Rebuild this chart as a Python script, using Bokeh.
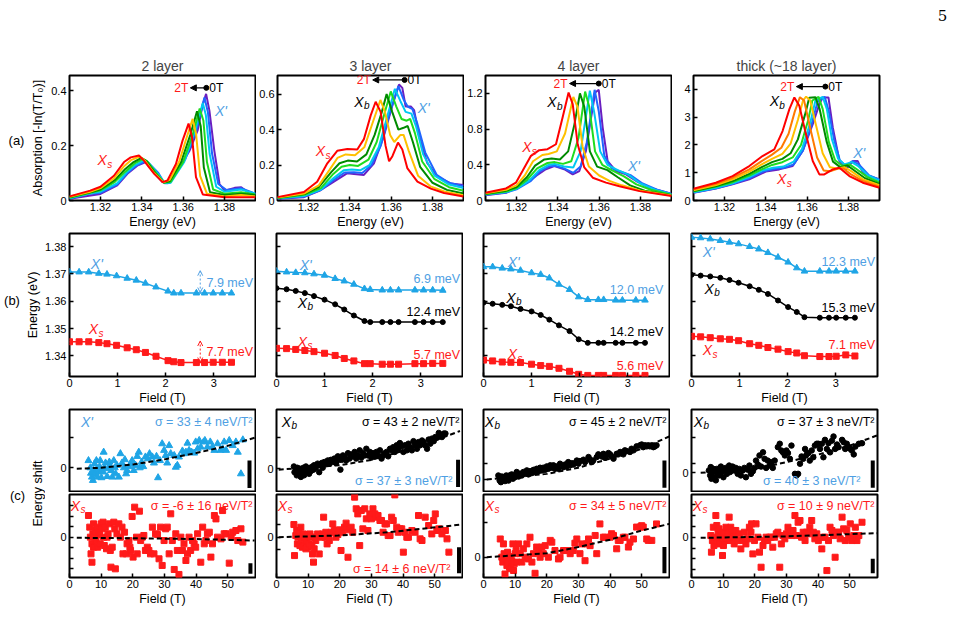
import math
from bokeh.plotting import figure
from bokeh.models import Range1d, FixedTicker, Label, Arrow, NormalHead, OpenHead
from bokeh.layouts import row, column
from bokeh.embed import file_html
from bokeh.resources import INLINE

FONT = "Liberation Sans"
RED = "#ff1a1a"
CYAN = "#1fa5e6"
CYAN_TXT = "#4f9fe3"
BLK = "#000000"

# ============================ DATA ============================
# (a) absorption spectra, (energy eV, -ln(T/T0)), curves ordered 2T -> 0T
SPEC_2L = [
    [(1.305,.015),(1.315,.036),(1.32,.05),(1.3265,.09),(1.3314,.14),(1.3346,.157),(1.3386,.164),(1.341,.145),(1.346,.097),(1.350,.067),(1.3524,.073),(1.3565,.133),(1.3597,.218),(1.3626,.28),(1.3643,.23),(1.3662,.085),(1.3695,.022),(1.38,.012),(1.395,.012)],
    [(1.305,.014),(1.315,.032),(1.32,.045),(1.3265,.08),(1.3314,.125),(1.335,.148),(1.339,.16),(1.3415,.145),(1.346,.1),(1.3505,.066),(1.3535,.075),(1.358,.14),(1.3615,.225),(1.3646,.297),(1.3662,.245),(1.3682,.09),(1.3715,.025),(1.38,.015),(1.388,.02),(1.395,.015)],
    [(1.305,.012),(1.315,.03),(1.32,.04),(1.327,.075),(1.332,.115),(1.336,.14),(1.3398,.155),(1.342,.145),(1.3465,.1),(1.3505,.065),(1.3535,.07),(1.359,.14),(1.3635,.24),(1.3667,.325),(1.3685,.27),(1.370,.12),(1.373,.03),(1.38,.02),(1.388,.025),(1.395,.02)],
    [(1.305,.01),(1.315,.028),(1.32,.037),(1.327,.068),(1.332,.105),(1.3365,.135),(1.3402,.15),(1.3425,.143),(1.347,.1),(1.3508,.065),(1.354,.068),(1.36,.14),(1.365,.25),(1.368,.335),(1.3698,.29),(1.3715,.14),(1.3745,.04),(1.38,.025),(1.388,.03),(1.395,.022)],
    [(1.305,.008),(1.315,.026),(1.32,.032),(1.328,.062),(1.333,.105),(1.337,.13),(1.3408,.145),(1.343,.14),(1.3475,.1),(1.351,.064),(1.354,.065),(1.3605,.14),(1.366,.26),(1.3695,.355),(1.371,.31),(1.3728,.17),(1.376,.05),(1.38,.032),(1.388,.04),(1.395,.025)],
    [(1.305,.007),(1.315,.025),(1.32,.028),(1.328,.058),(1.333,.1),(1.3375,.128),(1.3415,.142),(1.3435,.135),(1.348,.1),(1.351,.063),(1.3535,.064),(1.361,.15),(1.3665,.26),(1.3703,.375),(1.372,.32),(1.374,.17),(1.377,.06),(1.381,.038),(1.388,.045),(1.395,.025)],
    [(1.305,.006),(1.32,.024),(1.3281,.055),(1.333,.097),(1.3378,.127),(1.3419,.14),(1.3451,.109),(1.350,.067),(1.3524,.063),(1.3573,.109),(1.363,.18),(1.367,.255),(1.3695,.35),(1.3711,.388),(1.3727,.327),(1.3751,.18),(1.3776,.06),(1.38,.036),(1.3849,.046),(1.3881,.048),(1.3914,.03),(1.395,.024)],
]
SPEC_3L = [
    [(1.305,.019),(1.3178,.048),(1.3242,.106),(1.3291,.21),(1.3339,.28),(1.3388,.29),(1.3436,.288),(1.3468,.346),(1.3501,.48),(1.3525,.557),(1.3549,.5),(1.3573,.308),(1.359,.221),(1.3606,.25),(1.3633,.327),(1.3654,.288),(1.3678,.183),(1.3727,.106),(1.3792,.067),(1.3856,.042),(1.395,.023)],
    [(1.305,.017),(1.318,.04),(1.325,.085),(1.330,.17),(1.334,.24),(1.338,.26),(1.3425,.255),(1.347,.3),(1.3505,.42),(1.3548,.567),(1.357,.5),(1.3595,.37),(1.3615,.33),(1.3645,.37),(1.366,.37),(1.3685,.28),(1.373,.14),(1.379,.08),(1.386,.05),(1.395,.03)],
    [(1.305,.015),(1.318,.036),(1.325,.075),(1.331,.16),(1.335,.21),(1.339,.225),(1.3435,.22),(1.348,.26),(1.352,.37),(1.3555,.5),(1.3578,.6),(1.3605,.5),(1.3635,.4),(1.366,.41),(1.368,.42),(1.3705,.33),(1.374,.19),(1.38,.1),(1.387,.06),(1.395,.04)],
    [(1.305,.013),(1.318,.032),(1.326,.07),(1.332,.15),(1.336,.19),(1.340,.2),(1.344,.195),(1.349,.23),(1.353,.33),(1.357,.5),(1.3598,.615),(1.3625,.53),(1.365,.46),(1.3675,.45),(1.3692,.46),(1.3715,.38),(1.375,.22),(1.381,.12),(1.388,.075),(1.395,.055)],
    [(1.305,.012),(1.318,.026),(1.326,.062),(1.332,.125),(1.337,.17),(1.341,.175),(1.345,.17),(1.3495,.2),(1.354,.3),(1.358,.47),(1.3618,.63),(1.3645,.56),(1.367,.5),(1.3698,.49),(1.372,.42),(1.3755,.26),(1.381,.14),(1.388,.09),(1.395,.07)],
    [(1.305,.01),(1.318,.022),(1.326,.06),(1.332,.115),(1.3375,.158),(1.342,.16),(1.346,.155),(1.3505,.2),(1.355,.31),(1.3595,.5),(1.3635,.645),(1.366,.57),(1.368,.53),(1.3703,.515),(1.3725,.44),(1.3765,.27),(1.382,.145),(1.388,.1),(1.395,.08)],
    [(1.305,.01),(1.3178,.019),(1.3258,.058),(1.3323,.106),(1.3388,.154),(1.342,.15),(1.3468,.144),(1.3517,.21),(1.3565,.365),(1.3606,.538),(1.3638,.654),(1.3654,.635),(1.367,.53),(1.3695,.53),(1.3711,.51),(1.3735,.365),(1.3775,.21),(1.3824,.135),(1.3888,.096),(1.395,.087)],
]
SPEC_4L = [
    [(1.305,.086),(1.3149,.135),(1.3197,.2),(1.3229,.33),(1.327,.5),(1.331,.564),(1.335,.575),(1.3391,.63),(1.3423,.93),(1.3452,1.21),(1.3472,1.08),(1.3496,.63),(1.3528,.37),(1.3569,.255),(1.3633,.2),(1.3698,.16),(1.3795,.105),(1.395,.05)],
    [(1.305,.08),(1.315,.12),(1.32,.17),(1.324,.28),(1.328,.44),(1.3325,.51),(1.3355,.52),(1.3395,.55),(1.3435,.75),(1.3475,1.16),(1.3495,1.05),(1.352,.6),(1.355,.38),(1.36,.28),(1.365,.22),(1.371,.17),(1.38,.11),(1.395,.055)],
    [(1.305,.075),(1.315,.11),(1.32,.15),(1.325,.26),(1.329,.39),(1.3335,.46),(1.337,.47),(1.341,.46),(1.345,.55),(1.348,.85),(1.3507,1.2),(1.3528,1.05),(1.3555,.55),(1.359,.38),(1.364,.34),(1.369,.26),(1.375,.17),(1.382,.11),(1.395,.06)],
    [(1.305,.07),(1.315,.1),(1.32,.14),(1.325,.23),(1.33,.36),(1.335,.42),(1.3385,.43),(1.3425,.41),(1.3465,.44),(1.350,.7),(1.3532,1.22),(1.3552,1.05),(1.358,.55),(1.3615,.4),(1.366,.34),(1.372,.27),(1.378,.18),(1.385,.12),(1.395,.065)],
    [(1.305,.066),(1.315,.095),(1.32,.13),(1.326,.22),(1.331,.34),(1.3355,.4),(1.3385,.41),(1.343,.38),(1.3475,.37),(1.351,.55),(1.3555,1.23),(1.3575,1.0),(1.3605,.55),(1.364,.4),(1.369,.34),(1.374,.29),(1.38,.19),(1.387,.12),(1.395,.07)],
    [(1.305,.063),(1.315,.09),(1.32,.125),(1.327,.22),(1.3315,.33),(1.336,.385),(1.3385,.39),(1.343,.36),(1.3475,.31),(1.351,.38),(1.354,.65),(1.3578,1.24),(1.3598,1.0),(1.3625,.5),(1.366,.36),(1.371,.32),(1.3755,.28),(1.381,.19),(1.388,.12),(1.395,.072)],
    [(1.305,.06),(1.3149,.086),(1.3229,.18),(1.3294,.274),(1.3342,.35),(1.3383,.387),(1.3431,.35),(1.3472,.293),(1.3504,.33),(1.3536,.556),(1.3561,.93),(1.3581,1.21),(1.3598,1.24),(1.3617,.82),(1.3641,.44),(1.3682,.33),(1.373,.293),(1.3779,.218),(1.3843,.143),(1.395,.075)],
]
SPEC_TH = [
    [(1.305,.42),(1.3158,.64),(1.3239,.88),(1.332,1.24),(1.3384,1.6),(1.3441,1.84),(1.3481,2.5),(1.3514,3.29),(1.3538,3.71),(1.3562,3.41),(1.3594,2.39),(1.3627,1.42),(1.3659,.94),(1.3683,.94),(1.3724,1.12),(1.3756,1.18),(1.3804,.88),(1.3869,.64),(1.395,.46)],
    [(1.305,.4),(1.316,.6),(1.324,.82),(1.332,1.12),(1.338,1.42),(1.343,1.65),(1.3475,1.9),(1.351,2.4),(1.354,3.2),(1.3565,3.72),(1.3585,3.6),(1.3615,2.6),(1.3648,1.55),(1.368,1.08),(1.371,1.05),(1.375,1.15),(1.3775,1.15),(1.381,.95),(1.387,.7),(1.395,.5)],
    [(1.305,.37),(1.316,.56),(1.324,.76),(1.332,1.04),(1.338,1.3),(1.343,1.5),(1.348,1.68),(1.352,2.05),(1.3555,2.9),(1.358,3.6),(1.3595,3.74),(1.3615,3.6),(1.364,2.8),(1.3675,1.7),(1.371,1.2),(1.3745,1.15),(1.378,1.2),(1.3815,1.05),(1.387,.76),(1.395,.55)],
    [(1.305,.34),(1.316,.52),(1.324,.7),(1.332,.96),(1.338,1.2),(1.343,1.38),(1.348,1.5),(1.352,1.7),(1.3555,2.2),(1.359,3.1),(1.361,3.7),(1.364,3.72),(1.366,3.3),(1.3695,2.1),(1.3725,1.4),(1.376,1.2),(1.3795,1.26),(1.3825,1.1),(1.388,.8),(1.395,.6)],
    [(1.305,.32),(1.316,.5),(1.324,.66),(1.332,.9),(1.338,1.12),(1.343,1.28),(1.348,1.38),(1.353,1.55),(1.357,2.0),(1.3605,2.9),(1.3625,3.6),(1.3655,3.73),(1.3675,3.3),(1.3705,2.1),(1.3735,1.45),(1.377,1.25),(1.3805,1.3),(1.3835,1.15),(1.389,.85),(1.395,.65)],
    [(1.305,.3),(1.316,.46),(1.324,.62),(1.332,.84),(1.338,1.08),(1.3435,1.18),(1.3485,1.22),(1.3535,1.4),(1.3575,1.85),(1.3615,2.8),(1.364,3.6),(1.3675,3.73),(1.3695,3.3),(1.372,2.2),(1.375,1.5),(1.378,1.3),(1.3815,1.38),(1.3845,1.25),(1.3895,.9),(1.395,.72)],
    [(1.305,.29),(1.316,.44),(1.324,.6),(1.332,.8),(1.339,1.05),(1.3445,1.14),(1.349,1.18),(1.3535,1.3),(1.358,1.8),(1.362,2.7),(1.365,3.55),(1.3685,3.73),(1.3705,3.2),(1.373,2.2),(1.3758,1.45),(1.3785,1.25),(1.382,1.42),(1.385,1.3),(1.39,.9),(1.395,.75)],
    [(1.305,.28),(1.3158,.43),(1.3239,.58),(1.332,.76),(1.34,1.04),(1.3465,1.12),(1.353,1.24),(1.3578,1.78),(1.3627,2.75),(1.3659,3.47),(1.3675,3.71),(1.3703,3.71),(1.3724,2.63),(1.3756,1.42),(1.3788,1.12),(1.3821,1.42),(1.3845,1.42),(1.3869,1.0),(1.3901,.88),(1.395,.76)],
]
COLORS7 = ["#ff0000", "#ffc000", "#008a00", "#1fdc1f", "#00c8f0", "#1f66ff", "#6a1fc0"]
COLORS8 = ["#ff0000", "#ff7a00", "#ffc000", "#008a00", "#1fdc1f", "#00c8f0", "#1f66ff", "#6a1fc0"]

# (b) peak energy (eV) vs field (T)
F_2L = [0, 0.2, 0.4, 0.61, 0.78, 0.98, 1.2, 1.39, 1.58, 1.8, 2.05, 2.17, 2.32, 2.64, 2.81, 2.99, 3.18, 3.37]
E_2L_XP = [1.3707, 1.3707, 1.3707, 1.3702, 1.3699, 1.3693, 1.3684, 1.3677, 1.3666, 1.3652, 1.3637, 1.363, 1.363, 1.363, 1.363, 1.363, 1.363, 1.363]
E_2L_XS = [1.3452, 1.3452, 1.3452, 1.3449, 1.3445, 1.3439, 1.343, 1.3423, 1.3413, 1.3399, 1.3383, 1.3379, 1.3376, 1.3376, 1.3376, 1.3377, 1.3377, 1.3377]
F_3L = [0, 0.21, 0.4, 0.59, 0.78, 1.0, 1.22, 1.41, 1.61, 1.83, 1.95, 2.2, 2.37, 2.54, 2.88, 3.06, 3.25, 3.46]
E_3L_XP = [1.371, 1.3707, 1.3705, 1.3704, 1.37, 1.3695, 1.3683, 1.3674, 1.3662, 1.3646, 1.3643, 1.3641, 1.3641, 1.3641, 1.3641, 1.3641, 1.3641, 1.364]
E_3L_XB = [1.3648, 1.3644, 1.3638, 1.363, 1.3619, 1.3606, 1.3589, 1.357, 1.3548, 1.3528, 1.3524, 1.3524, 1.3524, 1.3524, 1.3524, 1.3524, 1.3524, 1.3524]
E_3L_XS = [1.3428, 1.3427, 1.3424, 1.342, 1.3416, 1.341, 1.3402, 1.3391, 1.3382, 1.3372, 1.3372, 1.337, 1.337, 1.337, 1.3372, 1.3372, 1.3373, 1.3373]
F_4L = [0, 0.19, 0.39, 0.57, 0.77, 1.0, 1.19, 1.37, 1.57, 1.79, 1.98, 2.17, 2.39, 2.5, 2.75, 2.89, 3.17, 3.36]
E_4L_XP = [1.3726, 1.3726, 1.3721, 1.3718, 1.3713, 1.3704, 1.3698, 1.3685, 1.3662, 1.3643, 1.3616, 1.3606, 1.3606, 1.3606, 1.3604, 1.3604, 1.3604, 1.3604]
E_4L_XB = [1.3595, 1.3591, 1.3587, 1.3582, 1.3572, 1.3563, 1.355, 1.3533, 1.3512, 1.3491, 1.3461, 1.3448, 1.3448, 1.3448, 1.3448, 1.3448, 1.3448, 1.3448]
E_4L_XS = [1.3385, 1.3382, 1.3378, 1.3377, 1.3376, 1.337, 1.3365, 1.3362, 1.3355, 1.3344, 1.3333, 1.3329, 1.3329, 1.3329, 1.3329, 1.3329, 1.3329, 1.3329]
F_TH = [0, 0.19, 0.39, 0.6, 0.79, 0.98, 1.21, 1.4, 1.59, 1.8, 2.01, 2.19, 2.35, 2.67, 2.86, 3.01, 3.21, 3.4]
E_TH_XP = [1.3834, 1.3832, 1.3828, 1.3822, 1.3816, 1.381, 1.38, 1.3791, 1.3778, 1.3761, 1.3743, 1.3722, 1.371, 1.371, 1.371, 1.371, 1.371, 1.371]
E_TH_XB = [1.3697, 1.3694, 1.3691, 1.3686, 1.3678, 1.3668, 1.3655, 1.3642, 1.3627, 1.3603, 1.3579, 1.3561, 1.3542, 1.354, 1.354, 1.354, 1.354, 1.354]
E_TH_XS = [1.3472, 1.347, 1.3467, 1.3463, 1.3461, 1.3456, 1.3445, 1.3439, 1.3431, 1.3425, 1.3416, 1.3411, 1.3401, 1.3398, 1.3398, 1.3399, 1.3404, 1.34]
SHIFT_LABELS = [
    [("7.9 meV", CYAN_TXT), ("7.7 meV", RED)],
    [("6.9 meV", CYAN_TXT), ("12.4 meV", BLK), ("5.7 meV", RED)],
    [("12.0 meV", CYAN_TXT), ("14.2 meV", BLK), ("5.6 meV", RED)],
    [("12.3 meV", CYAN_TXT), ("15.3 meV", BLK), ("7.1 meV", RED)],
]

# (c) high-field energy shift (ueV) vs field (T)
B_2L_XP = [6.0,6.6,6.8,7.1,7.4,7.6,7.9,8.2,8.5,8.7,8.9,9.2,9.5,9.7,10.1,10.3,10.6,10.8,11.1,11.4,11.9,12.2,12.6,12.9,13.2,13.5,14.0,14.3,14.6,15.0,15.6,16.1,16.6,17.2,17.5,17.9,18.2,18.8,19.3,19.8,20.3,20.9,21.4,21.9,22.2,22.8,23.3,24.0,24.8,25.3,26.2,26.7,27.5,28.0,28.6,29.3,29.9,30.4,30.9,31.5,32.0,33.1,33.6,34.1,34.6,35.7,36.2,36.8,37.3,37.8,38.6,39.4,39.9,40.5,41.0,41.5,42.4,42.8,43.6,44.5,45.2,45.8,46.8,47.7,48.4,48.9,49.5,50.5,51.6,52.6,53.2,54.2,54.8]
D_2L_XP = [24,0,-18,-31,-42,-9,13,-22,24,-3,-31,-14,4,24,-33,-9,-14,52,0,16,-29,-3,19,4,-9,-31,24,0,-20,8,-31,47,16,0,27,-20,-9,4,13,24,-9,8,38,52,0,19,4,36,30,47,36,16,38,-33,24,80,58,41,16,74,47,41,2,8,36,56,47,52,82,58,52,49,86,63,91,69,86,91,69,86,69,58,80,58,63,86,58,91,74,86,52,-20,93]
B_2L_XS = [6.0,6.4,6.6,6.8,7.1,7.1,7.4,7.6,7.6,7.9,8.2,8.4,8.7,8.9,9.2,9.5,9.7,10.0,10.3,10.6,10.8,11.0,11.3,11.7,11.9,12.2,12.6,12.9,13.1,13.5,14.0,14.3,14.5,15.0,15.6,16.1,16.6,16.9,17.4,18.0,18.2,18.8,19.1,19.3,19.8,20.1,20.6,21.2,21.4,22.1,22.5,23.0,23.5,24.0,24.6,25.1,25.6,26.2,26.7,27.2,27.8,28.3,28.8,29.3,29.9,30.4,30.9,31.5,32.0,32.5,33.1,33.6,34.1,34.6,35.2,35.7,36.2,36.8,37.3,37.8,38.3,38.9,39.4,39.9,40.5,41.5,42.1,42.6,43.1,43.6,44.2,44.7,45.2,45.8,46.3,46.8,47.9,48.4,48.9,49.5,50.5,51.1,51.6,52.6,53.2,54.2,54.8]
D_2L_XS = [205,95,0,-158,-237,-63,32,126,-95,0,63,-32,95,-95,25,47,-63,126,79,142,0,-79,95,-110,0,32,126,-126,-284,-95,142,79,-300,32,126,0,95,-158,47,-158,-63,-32,-95,-126,196,-189,284,0,-158,246,-32,0,16,-126,-95,-126,-158,95,-158,32,25,-205,95,-268,-32,79,95,-158,221,-32,-306,32,-126,-353,0,-126,-63,-221,-158,0,-126,-32,-63,-95,32,-237,95,-63,-32,32,47,-189,-63,205,173,0,-16,252,32,32,-246,0,47,63,-32,79,-47]
B_3L_XB = [5.5,5.7,6.1,6.4,6.6,6.8,7.1,7.4,7.7,7.9,8.2,8.5,8.7,9.0,9.3,9.6,10.0,10.3,10.6,10.9,11.4,11.7,11.9,12.4,13.0,13.5,13.8,14.3,14.6,15.1,15.6,16.2,16.7,17.2,17.8,18.3,18.8,19.4,19.9,20.2,20.6,21.0,21.5,22.0,22.6,23.1,23.6,24.1,24.7,25.2,25.7,26.3,26.8,27.3,27.9,28.4,28.9,29.5,30.0,30.5,31.1,31.6,32.1,32.7,33.2,33.7,34.3,34.8,35.3,35.9,36.4,36.9,37.4,38.0,38.5,39.0,39.6,40.1,40.6,41.2,41.7,42.2,42.8,43.3,43.8,44.4,44.9,45.4,46.0,46.5,47.0,47.6,48.1,48.6,49.1,49.7,50.2,50.7,51.3,51.8,52.3,52.9,53.4]
D_3L_XB = [7,-11,-3,-21,3,-7,-16,0,-26,-5,-14,3,-21,-5,7,-11,0,-16,3,-7,7,-3,11,3,16,-11,11,18,3,21,14,26,16,28,21,32,18,39,28,-3,28,42,35,26,49,32,45,39,53,32,42,58,35,49,42,63,42,53,35,49,39,53,42,58,32,42,49,53,39,63,58,68,53,74,63,81,71,53,74,58,79,68,58,87,74,63,84,74,89,84,74,63,92,79,95,87,100,98,113,105,100,111,111]
B_3L_XS = [5.5,5.7,6.1,6.4,6.6,6.8,7.1,7.4,7.7,7.9,8.2,8.5,8.7,9.0,9.3,9.6,9.8,10.0,10.3,10.6,10.9,11.2,11.4,11.7,11.9,12.2,12.4,13.0,13.5,13.8,14.3,14.6,14.9,15.3,15.6,16.0,16.4,16.7,17.2,17.8,18.3,18.8,19.4,19.9,20.4,21.0,21.5,22.0,22.6,23.1,23.6,24.1,24.7,25.2,25.7,26.3,26.8,27.3,27.9,28.4,28.9,29.5,30.0,30.5,31.1,31.6,32.1,32.7,33.2,33.7,34.3,34.8,35.3,35.9,36.4,36.9,37.4,38.0,38.5,39.0,39.6,40.1,40.6,41.2,41.7,42.8,43.8,44.9,45.4,46.0,47.0,48.1,49.1,49.7,50.2,50.7,51.3,52.3,53.4,53.9,54.5]
D_3L_XS = [100,-145,13,53,-53,0,39,-66,79,-26,-79,26,-66,0,-92,-39,-79,21,-53,26,0,-66,-132,-197,-92,0,-26,26,-132,13,0,26,158,0,39,-53,13,-26,39,105,53,0,21,58,-105,39,79,111,-158,58,79,39,316,224,184,-66,211,66,224,145,53,184,145,224,184,158,171,132,132,39,105,105,13,13,158,132,334,79,39,66,66,-118,39,0,0,53,39,171,-13,-26,158,92,26,132,184,53,66,26,53,-13,-118]
B_4L_XB = [4.7,5.1,5.3,5.5,5.8,6.1,6.3,6.6,6.8,7.2,7.4,7.6,7.9,8.2,8.4,8.9,9.3,9.5,10.0,10.5,11.1,11.6,12.1,12.6,13.2,13.7,14.2,14.7,15.3,15.8,16.3,16.8,17.4,17.9,18.4,18.9,19.5,20.0,20.5,21.1,21.6,22.1,22.6,23.2,23.7,24.2,25.3,25.8,26.3,26.8,27.4,27.9,28.4,28.9,29.5,30.0,30.5,31.6,32.1,33.2,33.7,34.2,34.7,35.8,36.3,37.4,37.9,38.4,38.9,39.5,40.0,40.5,41.1,42.1,42.6,43.2,43.7,44.2,44.7,45.3,46.3,46.8,47.4,48.4,49.5,50.0,50.5,51.1,51.6,52.1,52.6,53.2,53.7,54.2,54.7]
D_4L_XB = [15,-4,6,-10,11,-1,3,9,-6,15,3,9,-4,15,6,19,3,15,9,28,11,21,15,28,21,34,19,31,24,36,28,40,31,44,34,44,36,49,40,53,44,53,40,49,40,59,46,56,49,65,53,61,56,61,71,59,69,74,65,84,74,65,71,84,94,86,96,81,90,99,94,86,78,96,94,103,99,94,109,106,103,115,109,124,128,131,121,128,124,128,124,128,121,124,128]
B_4L_XS = [5.3,5.8,6.1,6.3,6.5,6.8,7.2,7.4,7.6,7.9,8.2,8.4,8.6,8.9,9.3,9.5,9.7,10.0,10.3,10.5,11.1,11.6,12.1,12.6,13.2,13.7,14.2,14.7,15.3,15.8,16.3,16.8,17.4,17.9,18.4,18.9,19.5,20.5,21.1,21.6,22.6,23.7,24.2,25.3,26.3,27.4,28.4,28.9,29.5,30.5,31.1,32.1,32.6,33.2,33.7,35.3,35.8,36.8,37.9,38.4,40.0,40.5,41.1,42.1,42.6,43.2,44.2,44.7,45.8,46.3,47.4,48.4,49.5,50.0,50.5,51.6,52.1,53.2,54.7]
D_4L_XS = [52,0,-14,38,10,-48,-5,-24,14,-14,-29,2,-33,-10,38,-38,-19,10,19,-14,38,10,-14,24,0,38,-5,57,-14,10,-46,29,19,0,29,10,33,0,48,43,19,-5,0,19,19,10,19,40,52,10,38,-10,38,52,33,62,10,95,57,57,57,67,62,24,48,48,57,57,29,43,52,86,86,90,86,52,48,48,95]
B_TH_XB = [5.5,5.9,6.1,6.3,6.6,6.9,7.1,7.4,7.7,8.0,8.2,8.4,8.7,9.0,9.3,9.5,9.8,10.1,10.3,10.9,11.2,11.4,11.9,12.2,12.4,13.0,13.5,14.0,14.6,15.1,15.6,16.2,16.7,17.2,17.8,18.3,18.8,19.4,19.9,20.4,21.0,21.5,22.0,22.6,23.1,23.6,24.1,24.7,25.2,25.7,26.3,27.3,27.9,28.4,28.9,29.5,30.0,30.5,31.1,31.6,32.7,33.2,33.7,34.3,34.8,35.3,35.9,36.4,36.9,37.4,38.0,38.5,39.0,39.6,40.1,40.6,41.2,41.7,42.2,42.8,43.3,43.8,44.4,44.9,45.4,46.0,46.5,47.6,48.1,48.6,49.1,49.7,50.2,50.7,51.3,51.8,52.9,53.9]
D_TH_XB = [9,-10,22,-23,3,15,-17,9,-29,15,-4,9,-10,19,24,3,15,-17,9,19,-4,9,28,3,12,24,9,19,-4,15,-10,9,19,-17,12,28,-4,6,19,47,32,67,24,79,54,19,47,28,41,19,47,99,112,86,79,67,86,76,54,105,-4,-10,-4,35,63,54,92,71,76,47,86,60,105,112,112,92,112,60,127,92,114,79,124,140,92,109,99,127,118,92,112,99,92,86,71,101,112,114]
B_TH_XS = [6.1,6.3,6.6,6.9,7.1,7.4,7.7,8.0,8.2,8.4,8.7,9.0,9.3,9.5,9.8,10.1,10.3,10.5,10.9,11.2,11.4,11.9,12.2,12.4,12.7,13.0,13.3,13.5,13.7,14.0,14.6,15.1,15.6,16.2,16.7,17.2,17.8,18.3,18.8,19.0,19.4,19.9,20.4,21.0,21.5,22.0,22.6,23.1,23.6,24.1,24.7,25.2,25.7,26.3,26.8,27.3,27.9,28.4,28.9,29.5,30.0,30.5,31.1,31.6,32.1,32.7,33.2,33.7,34.3,34.8,35.3,35.9,36.4,36.9,37.4,38.0,38.5,39.0,39.6,40.1,41.2,41.7,42.2,42.8,43.3,43.8,44.4,44.9,45.4,46.0,46.5,47.0,47.6,48.1,48.6,49.1,49.7,50.2,50.7,51.3,51.8,52.3,52.9,53.9]
D_TH_XS = [15,-138,-31,92,-77,0,200,108,-31,46,77,-62,15,0,-169,-77,46,-31,92,-15,31,185,-31,92,31,0,62,-62,0,62,-31,31,-108,-31,46,-62,-15,92,46,123,-154,-31,123,0,-138,-277,-77,-31,0,-31,0,0,-92,0,31,46,-277,-62,15,-15,31,92,46,15,62,200,15,138,154,0,46,-31,46,31,92,154,46,-15,31,-31,-108,0,0,-308,-31,92,62,15,-185,46,46,-15,185,77,-31,62,0,123,-31,15,92,-31,15,138]
# dashed diamagnetic fits (field T, shift ueV)
FIT_B = {"2L_XP": [2.3, 10, 20, 30, 40, 50, 58.5], "2L_XS": [2.3, 20, 40, 58.5],
         "3L_XB": [0.7, 20, 30, 40, 50, 58], "3L_XS": [0.7, 19.4, 35.3, 58.7],
         "4L_XB": [1.05, 20, 30, 40, 50, 58.7], "4L_XS": [1.05, 20, 30, 40, 50, 58.7],
         "TH_XB": [2.9, 20, 30, 40, 50, 58.7], "TH_XS": [2.9, 28.4, 58.7]}
FIT_D = {"2L_XP": [-3, 0, 11, 28, 49, 73, 100], "2L_XS": [-6, -10, -18, -32],
         "3L_XB": [-3, 11, 28, 56, 89, 119], "3L_XS": [0, 13, 39, 100],
         "4L_XB": [0, 21, 44, 78, 115, 161], "4L_XS": [0, 11, 29, 50, 76, 95],
         "TH_XB": [0, 15, 41, 70, 105, 144], "TH_XS": [-6, 6, 37]}
# scale bars: (field, low, high)
BAR_UP = [(56.9, -67, 24), (57.4, -58, 28), (57.2, -31, 71), (57.3, -58, 47)]
BAR_LO = [(57.2, -347, -246), (57.7, -284, -79), (57.2, -46, 29), (57.3, -332, -200)]
SIGMA_UP = ["σ = 33 ± 4 neV/T²", "σ = 43 ± 2 neV/T²", "σ = 45 ± 2 neV/T²", "σ = 37 ± 3 neV/T²"]
SIGMA_LO = ["σ = -6 ± 16 neV/T²", "σ = 14 ± 6 neV/T²", "σ = 34 ± 5 neV/T²", "σ = 10 ± 9 neV/T²"]
TITLES = ["2 layer", "3 layer", "4 layer", "thick (~18 layer)"]

# ============================ HELPERS ============================
FW = 186
STRIP_A = 26
STRIP_B = 21
PAGE_W = 58
LB = [20, 20, 21]          # left borders of columns 2-4
RB = [1, 1, 1, 78]
RB_A = [1, 1, 1, 78 - PAGE_W]


def panel(xr, yr, fh, lb, rb, tb, bb):
    p = figure(frame_width=FW, frame_height=fh, x_range=Range1d(*xr), y_range=Range1d(*yr),
               min_border_left=lb, min_border_right=rb, min_border_top=tb, min_border_bottom=bb,
               output_backend="svg", toolbar_location=None, tools="")
    p.outline_line_color = "black"
    p.outline_line_width = 2
    p.outline_line_alpha = 1.0
    p.xgrid.visible = False
    p.ygrid.visible = False
    p.background_fill_color = "white"
    p.border_fill_color = "white"
    return dict(fig=p, xr=xr, yr=yr, h=fh)


def style_axis(ax, ticks, labels=None, minor=(), size="11px", tick_in=4, label=None,
               label_size="12.5px", standoff=2, lab_standoff=2):
    ax.ticker = FixedTicker(ticks=list(ticks), minor_ticks=list(minor))
    ax.major_tick_in = tick_in
    ax.major_tick_out = 0
    ax.minor_tick_in = tick_in
    ax.minor_tick_out = 0
    ax.major_tick_line_width = 1.5
    ax.minor_tick_line_width = 1.5
    ax.major_tick_line_color = "black"
    ax.minor_tick_line_color = "black"
    ax.axis_line_color = None
    ax.major_label_text_font = FONT
    ax.major_label_text_color = "black"
    ax.major_label_text_font_size = size
    ax.major_label_standoff = standoff
    if labels is not None:
        ax.major_label_overrides = {t: l for t, l in zip(ticks, labels)}
    if label:
        ax.axis_label = label
        ax.axis_label_text_font = FONT
        ax.axis_label_text_font_size = label_size
        ax.axis_label_text_font_style = "normal"
        ax.axis_label_text_color = "black"
        ax.axis_label_standoff = lab_standoff


def off(P, x, y, dx, dy):
    (x0, x1), (y0, y1) = P["xr"], P["yr"]
    return x + dx * (x1 - x0) / FW, y - dy * (y1 - y0) / P["h"]


def at(P, px, py):
    (x0, x1), (y0, y1) = P["xr"], P["yr"]
    return x0 + px * (x1 - x0) / FW, y1 - py * (y1 - y0) / P["h"]


def label_on(fig, x, y, text, color=BLK, size=12, align="center", baseline="middle",
             style="normal", angle=0.0, font=FONT):
    fig.add_layout(Label(x=x, y=y, text=text, text_color=color, text_font=font,
                         text_font_size=f"{size}px", text_align=align, text_baseline=baseline,
                         text_font_style=style, angle=angle))


def label(P, x, y, text, color=BLK, size=12, align="center", baseline="middle", style="normal"):
    label_on(P["fig"], x, y, text, color, size, align, baseline, style)


def xsym(P, x, y, sub, color, size=14):
    if sub == "'":
        lx, ly = off(P, x, y, -0.33 * size, 0)
        label(P, lx, ly, "X'", color, size, align="left", style="italic")
        return
    label(P, x, y, "X", color, size, style="italic")
    sx, sy = off(P, x, y, 0.36 * size, 0.3 * size)
    label(P, sx, sy, sub, color, int(round(size * 0.72)), align="left", style="italic")


def blank(w, h):
    f = figure(frame_width=w, frame_height=h, x_range=Range1d(0, w), y_range=Range1d(h, 0),
               x_axis_location=None, y_axis_location=None, min_border=0,
               output_backend="svg", toolbar_location=None, tools="")
    f.outline_line_color = None
    f.xgrid.visible = False
    f.ygrid.visible = False
    return f


# ============================ ROW (a) ============================
SPECS = [SPEC_2L, SPEC_3L, SPEC_4L, SPEC_TH]
A_YR = [(0, 0.455), (0, 0.705), (0, 1.40), (0, 4.5)]
A_YT = [[0, 0.2, 0.4], [0, 0.2, 0.4, 0.6], [0, 0.4, 0.8, 1.2], [0, 1, 2, 3, 4]]
A_YL = [["0", "0.2", "0.4"], ["0", "0.2", "0.4", "0.6"], ["0", "0.4", "0.8", "1.2"], ["0", "1", "2", "3", "4"]]
A_ARROW = [(1.3625, 1.3712, 0.41), (1.3501, 1.3665, 0.68), (1.3447, 1.3598, 1.31), (1.3538, 1.3688, 4.1)]
A_SYMS = [
    [("s", RED, 1.3208, 0.148), ("'", CYAN_TXT, 1.3776, 0.327)],
    [("b", BLK, 1.3444, 0.558), ("s", RED, 1.3258, 0.279), ("'", CYAN_TXT, 1.3751, 0.519)],
    [("b", BLK, 1.3371, 1.10), ("s", RED, 1.325, 0.594), ("'", CYAN_TXT, 1.3762, 0.387)],
    [("b", BLK, 1.3441, 3.57), ("s", RED, 1.3477, 0.78), ("'", CYAN_TXT, 1.3845, 1.72)],
]
row_a = []
for i in range(4):
    lb = 69 - STRIP_A if i == 0 else LB[i - 1]
    P = panel((1.305, 1.395), A_YR[i], 125, lb, RB_A[i], 75, 31)
    p = P["fig"]
    p.title.text = TITLES[i]
    p.title.align = "center"
    p.title.text_font = FONT
    p.title.text_font_size = "14px"
    p.title.text_font_style = "normal"
    p.title.standoff = 4
    colors = COLORS8 if len(SPECS[i]) == 8 else COLORS7
    for curve, col in reversed(list(zip(SPECS[i], colors))):
        p.line([c[0] for c in curve], [c[1] for c in curve], line_color=col, line_width=2)
    style_axis(p.xaxis[0], [1.32, 1.34, 1.36, 1.38], ["1.32", "1.34", "1.36", "1.38"],
               label="Energy (eV)", lab_standoff=1)
    style_axis(p.yaxis[0], A_YT[i], A_YL[i], standoff=3,
               label=("Absorption [-ln(T/T₀)]" if i == 0 else None), lab_standoff=3)
    e2, ed, a = A_ARROW[i]
    label(P, e2, a, "2T", RED, 12, align="right")
    tip, _ = off(P, e2, a, 2, 0)
    p.add_layout(Arrow(end=NormalHead(size=6, fill_color="black", line_color="black"),
                       x_start=ed, y_start=a, x_end=tip, y_end=a, line_width=1.3, line_color="black"))
    p.scatter([ed], [a], size=5, color="black")
    t0, _ = off(P, ed, a, 3, 0)
    label(P, t0, a, "0T", BLK, 12, align="left")
    for sub, col, x, y in A_SYMS[i]:
        xsym(P, x, y, sub, col, 14)
    row_a.append(p)

strip_a = blank(STRIP_A, 231)
label_on(strip_a, 16, 140, "(a)", BLK, 13)
page_box = blank(PAGE_W, 231)
label_on(page_box, 43, 15, "5", BLK, 15, font="DejaVu Serif")

# ============================ ROW (b) ============================
B_SERIES = [
    (F_2L, [(E_2L_XP, CYAN, "triangle", 6.5), (E_2L_XS, RED, "square", 6)]),
    (F_3L, [(E_3L_XP, CYAN, "triangle", 6.5), (E_3L_XB, BLK, "circle", 5), (E_3L_XS, RED, "square", 6)]),
    (F_4L, [(E_4L_XP, CYAN, "triangle", 6.5), (E_4L_XB, BLK, "circle", 5), (E_4L_XS, RED, "square", 6)]),
    (F_TH, [(E_TH_XP, CYAN, "triangle", 6.5), (E_TH_XB, BLK, "circle", 5), (E_TH_XS, RED, "square", 6)]),
]
B_SYMS = [
    [("'", CYAN_TXT, 0.54, 1.3735), ("s", RED, 0.5, 1.3497)],
    [("'", CYAN_TXT, 0.58, 1.3732), ("b", BLK, 0.54, 1.3595), ("s", RED, 0.54, 1.3452)],
    [("'", CYAN_TXT, 0.6, 1.3744), ("b", BLK, 0.57, 1.3613), ("s", RED, 0.6, 1.3407)],
    [("'", CYAN_TXT, 0.33, 1.378), ("b", BLK, 0.37, 1.3646), ("s", RED, 0.33, 1.3421)],
]
B_LABPOS = [
    (2.85, "left", [1.3668, 1.3416]),
    (3.82, "right", [1.368, 1.3561, 1.3404]),
    (3.74, "right", [1.364, 1.3489, 1.3363]),
    (3.82, "right", [1.3743, 1.3575, 1.3442]),
]
B_YT = [1.34, 1.35, 1.36, 1.37, 1.38]
row_b = []
for i in range(4):
    lb = 69 - STRIP_B if i == 0 else LB[i - 1]
    P = panel((0, 3.87), (1.3325, 1.3848), 143, lb, RB[i], 2, 31)
    p = P["fig"]
    fields, series = B_SERIES[i]
    for E, col, mk, sz in series:
        p.line(fields, E, line_color=col, line_width=1.5)
        p.scatter(fields, E, marker=mk, size=sz, fill_color=col, line_color=col)
    style_axis(p.xaxis[0], [0, 1, 2, 3], ["0", "1", "2", "3"], label="Field (T)", lab_standoff=1)
    if i == 0:
        style_axis(p.yaxis[0], B_YT, ["1.34", "1.35", "1.36", "1.37", "1.38"], standoff=3,
                   label="Energy (eV)", lab_standoff=2)
    else:
        style_axis(p.yaxis[0], [], minor=B_YT, standoff=0)
    for sub, col, x, y in B_SYMS[i]:
        xsym(P, x, y, sub, col, 14)
    lx, align, ys = B_LABPOS[i]
    for (txt, col), y in zip(SHIFT_LABELS[i], ys):
        label(P, lx, y, txt, col, 12.5, align=align)
    if i == 0:
        for (lo, hi), col in zip([(1.3632, 1.3712), (1.3376, 1.3455)], [CYAN_TXT, RED]):
            p.add_layout(Arrow(start=OpenHead(size=5, line_color=col, line_width=1),
                               end=OpenHead(size=5, line_color=col, line_width=1),
                               x_start=2.72, y_start=lo, x_end=2.72, y_end=hi,
                               line_color=col, line_width=1, line_dash="2 2"))
    row_b.append(p)

strip_b = blank(STRIP_B, 176)
label_on(strip_b, 11.5, 69, "(b)", BLK, 13)

# ============================ ROW (c) ============================
C_UP = [
    (B_2L_XP, D_2L_XP, CYAN, "triangle", 7, "2L_XP", "'", CYAN_TXT, (-79, 194), [100], 16),
    (B_3L_XB, D_3L_XB, BLK, "circle", 5.5, "3L_XB", "b", BLK, (-72, 187), [100], 10),
    (B_4L_XB, D_4L_XB, BLK, "circle", 5.5, "4L_XB", "b", BLK, (-45, 262), [59, 156], 6),
    (B_TH_XB, D_TH_XB, BLK, "circle", 5.5, "TH_XB", "b", BLK, (-72, 244), [35, 135], 7),
]
C_LO = [
    (B_2L_XS, D_2L_XS, RED, "square", 6, "2L_XS", (-382, 404), [-300, -200, -100, 100, 200, 300]),
    (B_3L_XS, D_3L_XS, RED, "square", 6, "3L_XS", (-318, 337), [-100, 100]),
    (B_4L_XS, D_4L_XS, RED, "square", 6, "4L_XS", (-58, 179), [100]),
    (B_TH_XS, D_TH_XS, RED, "square", 6, "TH_XS", (-372, 394), [-300, -200, -100, 100, 200, 300]),
]
SIGMA_COL_UP = [CYAN_TXT, BLK, BLK, BLK]
STRIP_C = 45
row_cu, row_cl = [], []
for i in range(4):
    lb = 69 - STRIP_C if i == 0 else LB[i - 1]
    bx, dy, col, mk, sz, key, sub, scol, yr, ymin, spx = C_UP[i]
    P = panel((0, 58.8), yr, 82, lb, RB[i], 2, 1)
    p = P["fig"]
    p.scatter(bx, dy, marker=mk, size=sz, fill_color=col, line_color=col)
    p.line(FIT_B[key], FIT_D[key], line_color="black", line_width=2, line_dash="5 3")
    bb, lo, hi = BAR_UP[i]
    p.segment([bb], [lo], [bb], [hi], line_color="black", line_width=4)
    p.xaxis.visible = False
    style_axis(p.yaxis[0], [0], ["0"], minor=ymin, standoff=3)
    x, y = at(P, spx, 12)
    xsym(P, x, y, sub, scol, 14)
    x, y = at(P, 183, 12)
    label(P, x, y, SIGMA_UP[i], SIGMA_COL_UP[i], 12.5, align="right")
    if i == 1:
        x, y = at(P, 176, 71)
        label(P, x, y, "σ = 37 ± 3 neV/T²", CYAN_TXT, 12.5, align="right")
    if i == 3:
        x, y = at(P, 169, 71)
        label(P, x, y, "σ = 40 ± 3 neV/T²", CYAN_TXT, 12.5, align="right")
    row_cu.append(p)

    bx, dy, col, mk, sz, key, yr, ymin = C_LO[i]
    P = panel((0, 58.8), yr, 83, lb, RB[i], 2, 33)
    p = P["fig"]
    p.scatter(bx, dy, marker=mk, size=sz, fill_color=col, line_color=col)
    p.line(FIT_B[key], FIT_D[key], line_color="black", line_width=2, line_dash="5 3")
    bb, lo, hi = BAR_LO[i]
    p.segment([bb], [lo], [bb], [hi], line_color="black", line_width=4)
    style_axis(p.xaxis[0], [0, 10, 20, 30, 40, 50], ["0", "10", "20", "30", "40", "50"],
               label="Field (T)", lab_standoff=1)
    style_axis(p.yaxis[0], [0], ["0"], minor=ymin, standoff=3)
    x, y = at(P, 6, 11)
    xsym(P, x, y, "s", RED, 14)
    if i == 1:
        x, y = at(P, 174, 74)
    else:
        x, y = at(P, 183, 11)
    label(P, x, y, SIGMA_LO[i], RED, 12.5, align="right")
    row_cl.append(p)

strip_c = blank(STRIP_C, 203)
label_on(strip_c, 17, 88, "(c)", BLK, 13)
label_on(strip_c, 37, 86, "Energy shift", BLK, 12.5, angle=math.pi / 2)

# side strips are wrapped in columns so they keep their own full-height frames
layout = column(
    row(column(strip_a), *row_a, column(page_box)),
    row(column(strip_b), *row_b),
    row(strip_c, column(row(*row_cu), row(*row_cl))),
)
open("out.html", "w").write(file_html(layout, INLINE))
